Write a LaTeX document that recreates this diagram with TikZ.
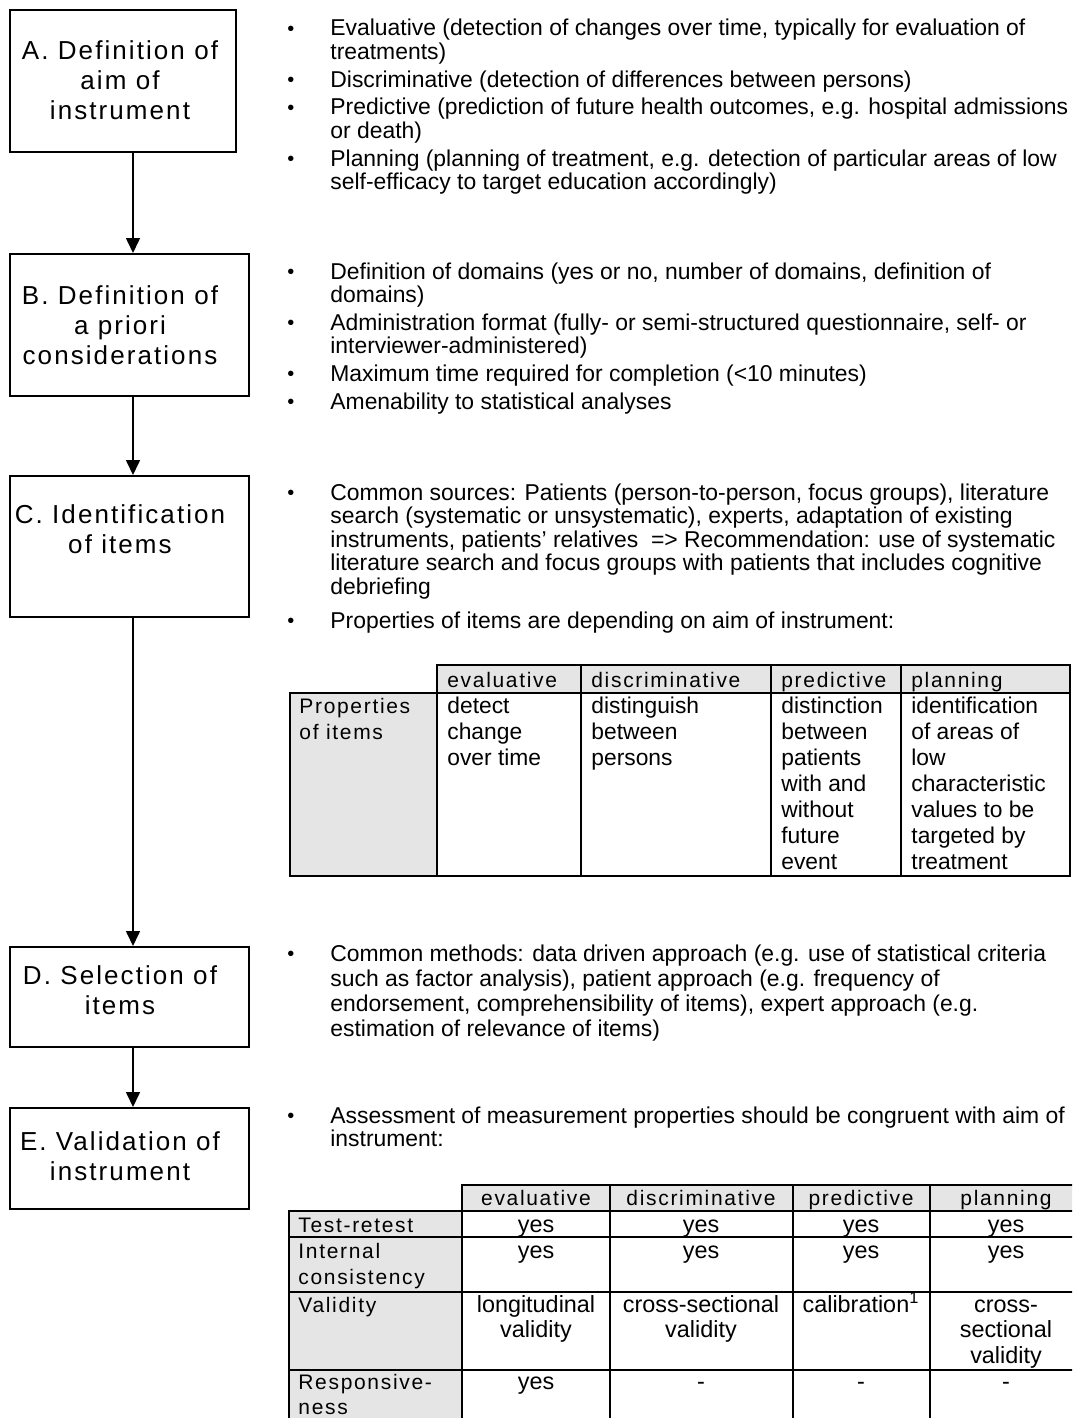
\documentclass[tikz,border=0pt]{standalone}
\usepackage{fontspec}
\setmainfont{Liberation Sans}
\newfontfamily\widefont[LetterSpace=8]{Liberation Sans}
\usetikzlibrary{arrows.meta,fit}

\definecolor{cellgray}{gray}{0.9}
\newcommand{\dotmark}{\raisebox{0.3pt}{\fontsize{10}{10}\selectfont\textbullet}}
\newcommand{\lstack}[1]{\begin{tabular}[t]{@{}l@{}}#1\end{tabular}}
\newcommand{\cstack}[1]{\begin{tabular}[t]{@{}c@{}}#1\end{tabular}}
\newcommand{\blist}[1]{\begin{tabular}[t]{@{}p{21.5pt}@{}l@{}}#1\end{tabular}}

\tikzset{
  stepbox/.style={draw, line width=1pt, inner sep=0pt},
  steptext/.style={anchor=base, inner sep=0pt, font=\widefont\fontsize{13}{15}\selectfont},
  bullets/.style={anchor=base west, inner sep=0pt, font=\fontsize{11.45}{11.75}\selectfont},
  flow/.style={-{Triangle[length=7.5pt,width=7pt]}, line width=0.8pt},
  grid/.style={line width=1pt, line cap=rect},
  headL/.style={anchor=base west, inner sep=0pt, font=\widefont\fontsize{10.5}{13}\selectfont},
  headC/.style={anchor=base, inner sep=0pt, font=\widefont\fontsize{10.5}{13}\selectfont},
  cellL/.style={anchor=base west, inner sep=0pt, font=\fontsize{11.4}{13}\selectfont},
  cellC/.style={anchor=base, inner sep=0pt, font=\fontsize{11.7}{12.75}\selectfont},
}

\begin{document}
\begin{tikzpicture}[x=0.5pt,y=-0.5pt]
    \useasboundingbox (0,0) rectangle (1072,1418);
    \clip (0,0) rectangle (1072,1418);
    \fill[white] (0,0) rectangle (1072,1418);

    % steps on the left
    \node[stepbox, fit={(10,10) (236,152)}] (boxA) {};
    \node[stepbox, fit={(10,254) (249,396)}] (boxB) {};
    \node[stepbox, fit={(10,476) (249,617)}] (boxC) {};
    \node[stepbox, fit={(10,947) (249,1047)}] (boxD) {};
    \node[stepbox, fit={(10,1108) (249,1209)}] (boxE) {};
    \node[steptext] (txtA) at (120,60) {\cstack{A. Definition of\\aim of\\instrument}};
    \node[steptext] (txtB) at (120,304) {\cstack{B. Definition of\\a priori\\considerations}};
    \node[steptext] (txtC) at (120,523) {\cstack{C. Identification\\of items}};
    \node[steptext] (txtD) at (120,984) {\cstack{D. Selection of\\items}};
    \node[steptext] (txtE) at (120,1150) {\cstack{E. Validation of\\instrument}};

    \coordinate (ax) at (133,0);
    \draw[flow] (boxA.south -| ax) -- (boxB.north -| ax);
    \draw[flow] (boxB.south -| ax) -- (boxC.north -| ax);
    \draw[flow] (boxC.south -| ax) -- (boxD.north -| ax);
    \draw[flow] (boxD.south -| ax) -- (boxE.north -| ax);

    % bullet lists
    \node[bullets] (listA) at (287,36) {\blist{
        \dotmark & Evaluative (detection of changes over time, typically for evaluation of\\
                 & treatments)\\[2pt]
        \dotmark & Discriminative (detection of differences between persons)\\[2pt]
        \dotmark & Predictive (prediction of future health outcomes, e.g. hospital admissions\\
                 & or death)\\[2pt]
        \dotmark & Planning (planning of treatment, e.g. detection of particular areas of low\\
                 & self-efficacy to target education accordingly)}};
    \node[bullets] (listB) at (287,279) {\blist{
        \dotmark & Definition of domains (yes or no, number of domains, definition of\\
                 & domains)\\[2pt]
        \dotmark & Administration format (fully- or semi-structured questionnaire, self- or\\
                 & interviewer-administered)\\[2pt]
        \dotmark & Maximum time required for completion (<10 minutes)\\[2pt]
        \dotmark & Amenability to statistical analyses}};
    \node[bullets] (listC) at (287,500) {\blist{
        \dotmark & Common sources: Patients (person-to-person, focus groups), literature\\
                 & search (systematic or unsystematic), experts, adaptation of existing\\
                 & instruments, patients’ relatives \ => Recommendation: use of systematic\\
                 & literature search and focus groups with patients that includes cognitive\\
                 & debriefing\\[5pt]
        \dotmark & Properties of items are depending on aim of instrument:}};
    \node[bullets, font=\fontsize{11.45}{12.6}\selectfont] (listD) at (287,961) {\blist{
        \dotmark & Common methods: data driven approach (e.g. use of statistical criteria\\
                 & such as factor analysis), patient approach (e.g. frequency of\\
                 & endorsement, comprehensibility of items), expert approach (e.g.\\
                 & estimation of relevance of items)}};
    \node[bullets] (listE) at (287,1123) {\blist{
        \dotmark & Assessment of measurement properties should be congruent with aim of\\
                 & instrument:}};

    % table: properties of items
    \fill[cellgray] (437,665) rectangle (1070,693);
    \fill[cellgray] (290,693) rectangle (437,876);
    \draw[grid] (437,665) -- (1070,665);
    \draw[grid] (290,693) -- (1070,693);
    \draw[grid] (290,876) -- (1070,876);
    \draw[grid] (290,693) -- (290,876);
    \foreach \cx in {437,581,771,901,1070}
        \draw[grid] (\cx,665) -- (\cx,876);
    \node[headL] (p1) at (447,687) {evaluative};
    \node[headL] (p2) at (591,687) {discriminative};
    \node[headL] (p3) at (781,687) {predictive};
    \node[headL] (p4) at (911,687) {planning};
    \node[headL] (p0) at (299,713) {\lstack{Properties\\of items}};
    \node[cellL] (q1) at (447,713) {\lstack{detect\\change\\over time}};
    \node[cellL] (q2) at (591,713) {\lstack{distinguish\\between\\persons}};
    \node[cellL] (q3) at (781,713) {\lstack{distinction\\between\\patients\\with and\\without\\future\\event}};
    \node[cellL] (q4) at (911,713) {\lstack{identification\\of areas of\\low\\characteristic\\values to be\\targeted by\\treatment}};

    % table: measurement properties
    \fill[cellgray] (462,1185) rectangle (1082,1211);
    \fill[cellgray] (289,1211) rectangle (462,1425);
    \draw[grid] (462,1185) -- (1082,1185);
    \foreach \ry in {1211,1237,1292,1370}
        \draw[grid] (289,\ry) -- (1082,\ry);
    \draw[grid] (289,1211) -- (289,1425);
    \foreach \cx in {462,610,793,930,1082}
        \draw[grid] (\cx,1185) -- (\cx,1425);
    \node[headC] (m1) at (536,1205) {evaluative};
    \node[headC] (m2) at (701,1205) {discriminative};
    \node[headC] (m3) at (861,1205) {predictive};
    \node[headC] (m4) at (1006,1205) {planning};
    \node[headL] (r1) at (298,1232) {Test-retest};
    \node[headL] (r2) at (298,1258) {\lstack{Internal\\consistency}};
    \node[headL] (r3) at (298,1312) {Validity};
    \node[headL, font=\widefont\fontsize{10.5}{12.5}\selectfont] (r4) at (298,1389) {\lstack{Responsive-\\ness}};
    \foreach \cx/\cn in {536/1,701/2,861/3,1006/4} {
        \node[cellC] (ra\cn) at (\cx,1232) {yes};
        \node[cellC] (rb\cn) at (\cx,1258) {yes};
    }
    \node[cellC] (rc1) at (536,1312) {\cstack{longitudinal\\validity}};
    \node[cellC] (rc2) at (701,1312) {\cstack{cross-sectional\\validity}};
    \node[cellC] (rc3) at (861,1312) {calibration\textsuperscript{1}};
    \node[cellC] (rc4) at (1006,1312) {\cstack{cross-\\sectional\\validity}};
    \node[cellC] (rd1) at (536,1389) {yes};
    \node[cellC] (rd2) at (701,1389) {-};
    \node[cellC] (rd3) at (861,1389) {-};
    \node[cellC] (rd4) at (1006,1389) {-};
\end{tikzpicture}
\end{document}
